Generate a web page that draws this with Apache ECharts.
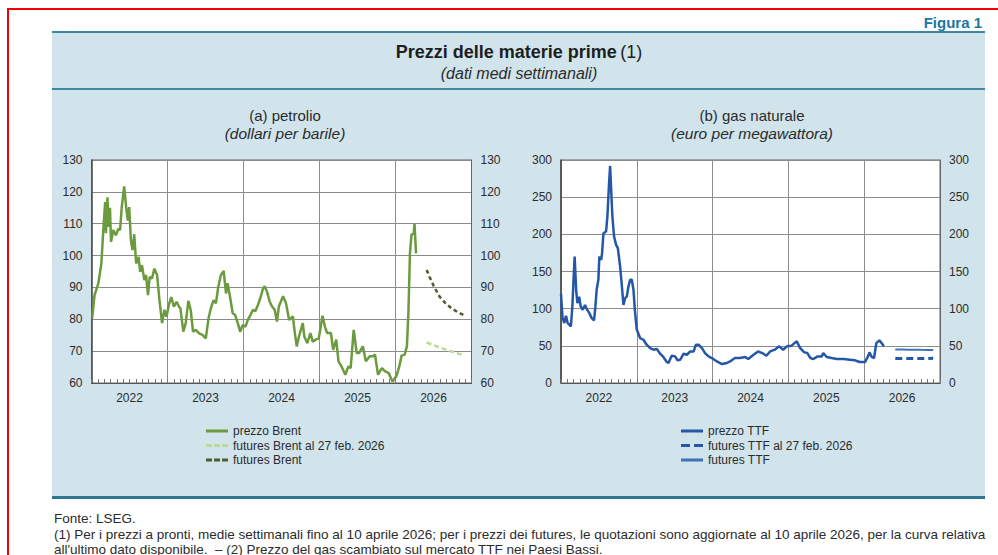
<!DOCTYPE html>
<html>
<head>
<meta charset="utf-8">
<script src="https://cdn.jsdelivr.net/npm/echarts@6/dist/echarts.min.js"></script>
<style>
  html, body { margin: 0; padding: 0; background: #fff; }
  #chart { width: 998px; height: 555px; }
</style>
</head>
<body>
<div id="chart"></div>
<script>
// dati (anni decimali, valori)
var yearLabels = ['2022', '2023', '2024', '2025', '2026'];

var brentPrice = [
  [2022.01, 80.5], [2022.04, 87.6], [2022.09, 91.3], [2022.13, 97.5], [2022.155, 108], [2022.18, 116.8],
  [2022.19, 107], [2022.21, 118.3], [2022.226, 109], [2022.243, 115], [2022.257, 104.3], [2022.287, 108],
  [2022.32, 106.4], [2022.354, 108.4], [2022.376, 108], [2022.398, 115.2], [2022.43, 121.7], [2022.456, 115.2],
  [2022.478, 111], [2022.496, 115.2], [2022.518, 104.8], [2022.54, 101.7], [2022.562, 106.7], [2022.588, 97.5],
  [2022.62, 99.6], [2022.64, 94.9], [2022.664, 97], [2022.695, 92.3], [2022.717, 93.9], [2022.743, 87.6],
  [2022.765, 93.3], [2022.796, 92.8], [2022.827, 95.9], [2022.863, 93.9], [2022.894, 86], [2022.929, 78.8],
  [2022.96, 83], [2022.987, 80.8], [2023.018, 84.5], [2023.049, 87], [2023.084, 84], [2023.12, 85.5],
  [2023.15, 84], [2023.17, 83.4], [2023.208, 76.1], [2023.24, 78.8], [2023.274, 85.8], [2023.305, 83],
  [2023.336, 76.1], [2023.372, 76.7], [2023.416, 75.6], [2023.46, 75.1], [2023.504, 74], [2023.54, 80.3],
  [2023.57, 83.4], [2023.606, 86], [2023.637, 85], [2023.668, 90.2], [2023.703, 93.9], [2023.739, 95.2],
  [2023.77, 88.1], [2023.79, 91.3], [2023.823, 87], [2023.858, 81.9], [2023.889, 81.4], [2023.925, 78.8],
  [2023.956, 76.1], [2023.99, 78.2], [2024.026, 77.7], [2024.057, 79.8], [2024.093, 81.4], [2024.124, 83],
  [2024.155, 82.5], [2024.19, 84.5], [2024.226, 87], [2024.257, 89.7], [2024.279, 90.4], [2024.31, 88.6],
  [2024.345, 85.5], [2024.376, 84], [2024.41, 83], [2024.44, 79.3], [2024.465, 84], [2024.52, 87.2],
  [2024.56, 85], [2024.6, 79.8], [2024.65, 80.9], [2024.67, 76.7], [2024.70, 71.5], [2024.73, 74.6],
  [2024.78, 78.8], [2024.8, 74.6], [2024.84, 72.5], [2024.88, 75.7], [2024.91, 73], [2024.95, 73.6],
  [2024.99, 74], [2025.04, 81.1], [2025.07, 77.8], [2025.1, 75.7], [2025.15, 75.7], [2025.18, 70.4],
  [2025.22, 73.6], [2025.25, 66.8], [2025.29, 65.2], [2025.34, 62.6], [2025.38, 65.2], [2025.41, 64.7],
  [2025.45, 76.7], [2025.49, 69.4], [2025.52, 69.4], [2025.57, 71.5], [2025.61, 66.8], [2025.66, 68.4],
  [2025.71, 68.4], [2025.73, 69], [2025.77, 62.6], [2025.82, 64.7], [2025.86, 63.7], [2025.91, 63.1],
  [2025.96, 60.5], [2026.01, 62.1], [2026.05, 65.2], [2026.08, 68.6], [2026.12, 68.9], [2026.15, 71.5],
  [2026.17, 82], [2026.19, 100.7], [2026.21, 106.5], [2026.24, 107], [2026.25, 110.1], [2026.27, 100.7]
];
var brentFuturesFeb = [
  [2026.41, 72.7], [2026.5, 71.9], [2026.58, 71.2], [2026.67, 70.4], [2026.75, 69.8], [2026.83, 69.2], [2026.91, 68.7]
];
var brentFutures = [
  [2026.41, 95.5], [2026.45, 93.2], [2026.5, 90.6], [2026.58, 87.1], [2026.66, 85], [2026.74, 83.4], [2026.82, 82.2], [2026.91, 81.2]
];

var ttfPrice = [
  [2022.0, 120], [2022.02, 88], [2022.044, 80.6], [2022.066, 90.5], [2022.088, 80.6], [2022.11, 78.4],
  [2022.13, 76], [2022.15, 103], [2022.167, 143], [2022.18, 170], [2022.2, 125], [2022.216, 107.5],
  [2022.24, 116], [2022.26, 103], [2022.286, 98.5], [2022.317, 105], [2022.34, 99.4], [2022.374, 94],
  [2022.405, 87.3], [2022.436, 84.2], [2022.454, 103], [2022.47, 125.4], [2022.493, 138.8], [2022.506, 170],
  [2022.53, 165.7], [2022.542, 174.7], [2022.56, 201.5], [2022.595, 203.8], [2022.612, 224], [2022.634, 268.7],
  [2022.648, 292], [2022.66, 264], [2022.678, 224], [2022.7, 197], [2022.727, 185.8], [2022.75, 181.4],
  [2022.78, 156.7], [2022.8, 134], [2022.824, 105], [2022.846, 114], [2022.868, 116.4], [2022.89, 130],
  [2022.912, 138.8], [2022.934, 138.8], [2022.956, 125.4], [2022.974, 98.5], [2023.0, 71.6], [2023.044, 60.5],
  [2023.088, 58.2], [2023.13, 51.5], [2023.176, 47], [2023.22, 44.8], [2023.264, 45.7], [2023.308, 39.4],
  [2023.35, 35], [2023.396, 28.2], [2023.418, 26.9], [2023.46, 36.7], [2023.506, 35.8], [2023.537, 30.5],
  [2023.573, 31.3], [2023.617, 39.4], [2023.66, 38], [2023.705, 42.5], [2023.75, 42.5], [2023.78, 51.5],
  [2023.815, 51.5], [2023.86, 47], [2023.9, 40.3], [2023.947, 35.8], [2023.99, 33.6], [2024.057, 29],
  [2024.123, 25.5], [2024.19, 26.9], [2024.23, 29], [2024.295, 33.6], [2024.36, 33.6], [2024.43, 35],
  [2024.47, 32.2], [2024.54, 38], [2024.6, 42.5], [2024.67, 39.4], [2024.71, 36.7], [2024.76, 42.5],
  [2024.82, 44.8], [2024.88, 49.3], [2024.93, 44.8], [2024.98, 49.3], [2025.04, 50], [2025.09, 54.6],
  [2025.11, 56], [2025.155, 47], [2025.21, 41.2], [2025.25, 40.3], [2025.29, 33.6], [2025.33, 32.2],
  [2025.385, 35.8], [2025.44, 35.8], [2025.46, 40.3], [2025.505, 35], [2025.57, 33.6], [2025.64, 32.2],
  [2025.73, 32.2], [2025.81, 31.3], [2025.88, 30.5], [2025.94, 28.2], [2026.01, 28.2], [2026.05, 35.8],
  [2026.07, 41.2], [2026.1, 35], [2026.13, 33.6], [2026.16, 53.7], [2026.2, 57.3], [2026.23, 53.7],
  [2026.26, 49.3]
];
var ttfFuturesFeb = [
  [2026.41, 33], [2026.5, 33], [2026.58, 32.9], [2026.67, 32.9], [2026.75, 33], [2026.83, 33.1], [2026.91, 33.2]
];
var ttfFutures = [
  [2026.41, 45.2], [2026.5, 45], [2026.58, 44.8], [2026.67, 44.8], [2026.75, 44.6], [2026.83, 44.5], [2026.91, 44.5]
];

var FONT = '"Liberation Sans", Arial, Helvetica, sans-serif';
var txt = '#2b2b2b';

// icone della legenda (linea piena / tratteggiata)
var ICON_SOLID = 'path://M0,0H22V3H0Z';
var ICON_DASH3 = 'path://M0,0H6V3H0Z M8,0H14V3H8Z M16,0H22V3H16Z';
var ICON_DASH2 = 'path://M0,0H9V3H0Z M13,0H22V3H13Z';

function xValueAxis(gi) {
  return {
    type: 'value', gridIndex: gi, min: 2022, max: 2027, interval: 1,
    axisLabel: { show: false },
    axisLine: { show: true, lineStyle: { color: '#555', width: 1 } },
    axisTick: { show: true, inside: true, length: 4, lineStyle: { color: '#777' } },
    minorTick: { show: true, splitNumber: 12, length: 4, lineStyle: { color: '#777' } },
    splitLine: { show: true, lineStyle: { color: '#8c8c8c', width: 1 } }
  };
}
function xLabelAxis(gi) {
  return {
    type: 'category', gridIndex: gi, data: yearLabels, boundaryGap: true, position: 'bottom',
    axisLine: { show: false }, axisTick: { show: false }, splitLine: { show: false },
    axisLabel: { color: txt, fontSize: 12, fontFamily: FONT, margin: 9 }
  };
}
function yAxis(gi, pos, min, max, step) {
  return {
    type: 'value', gridIndex: gi, position: pos, min: min, max: max, interval: step,
    axisLine: { show: true, lineStyle: { color: pos === 'left' ? '#444' : '#666', width: pos === 'left' ? 1.5 : 1 } },
    axisTick: { show: false },
    axisLabel: { color: txt, fontSize: 12, fontFamily: FONT, margin: 9 },
    splitLine: { show: pos === 'left', lineStyle: { color: '#8c8c8c', width: 1 } }
  };
}
function line(name, data, xi, yi, color, width, dash) {
  return {
    name: name, type: 'line', xAxisIndex: xi, yAxisIndex: yi, data: data,
    symbol: 'none', animation: false,
    lineStyle: { color: color, width: width, type: dash || 'solid' },
    itemStyle: { color: color }
  };
}
function legendBox(x, items) {
  return {
    orient: 'vertical', left: x, top: 420, itemWidth: 22, itemHeight: 3, itemGap: 2.5,
    selectedMode: false, textStyle: { color: txt, fontSize: 12, fontFamily: FONT },
    itemStyle: { borderWidth: 0 }, lineStyle: { width: 0 },
    data: items
  };
}

var chart = echarts.init(document.getElementById('chart'), null, { renderer: 'svg' });

chart.setOption({
  backgroundColor: '#fff',
  animation: false,
  textStyle: { fontFamily: FONT },
  graphic: [
    { type: 'rect', z: -10, shape: { x: 8, y: 9, width: 1010, height: 570 }, style: { fill: 'none', stroke: '#f00000', lineWidth: 2 } },
    { type: 'rect', z: -10, shape: { x: 52, y: 32, width: 933, height: 466 }, style: { fill: '#d1e4ec' } },
    { type: 'rect', z: -9, shape: { x: 52, y: 31, width: 933, height: 2 }, style: { fill: '#3c87a6' } },
    { type: 'rect', z: -9, shape: { x: 52, y: 88, width: 933, height: 2 }, style: { fill: '#3c87a6' } },
    { type: 'rect', z: -9, shape: { x: 52, y: 496, width: 933, height: 3 }, style: { fill: '#2f7491' } },
    { type: 'text', style: { text: 'Figura 1', x: 982, y: 22, align: 'right', verticalAlign: 'middle', font: 'bold 15px ' + FONT, fill: '#1b77a0' } },
    { type: 'text', style: {
        text: '{b|Prezzi delle materie prime} {n|(1)}', x: 519, y: 52, align: 'center', verticalAlign: 'middle',
        rich: { b: { fontWeight: 'bold', fontSize: 18, fontFamily: FONT, fill: '#1e1e1e' }, n: { fontSize: 18, fontFamily: FONT, fill: '#1e1e1e' } } } },
    { type: 'text', style: { text: '(dati medi settimanali)', x: 519, y: 73, align: 'center', verticalAlign: 'middle', font: 'italic 16px ' + FONT, fill: txt } },
    { type: 'text', style: { text: '(a) petrolio', x: 285, y: 115, align: 'center', verticalAlign: 'middle', font: '15px ' + FONT, fill: txt } },
    { type: 'text', style: { text: '(dollari per barile)', x: 285, y: 133, align: 'center', verticalAlign: 'middle', font: 'italic 15.5px ' + FONT, fill: txt } },
    { type: 'text', style: { text: '(b) gas naturale', x: 752, y: 115, align: 'center', verticalAlign: 'middle', font: '15px ' + FONT, fill: txt } },
    { type: 'text', style: { text: '(euro per megawattora)', x: 752, y: 133, align: 'center', verticalAlign: 'middle', font: 'italic 15.5px ' + FONT, fill: txt } },
    { type: 'text', style: { text: 'Fonte: LSEG.', x: 54, y: 518, align: 'left', verticalAlign: 'middle', font: '13.5px ' + FONT, fill: txt } },
    { type: 'text', style: { text: '(1) Per i prezzi a pronti, medie settimanali fino al 10 aprile 2026; per i prezzi dei futures, le quotazioni sono aggiornate al 10 aprile 2026, per la curva relativa', x: 54, y: 534, align: 'left', verticalAlign: 'middle', font: '13.5px ' + FONT, fill: txt } },
    { type: 'text', style: { text: 'all\'ultimo dato disponibile.  \u2013 (2) Prezzo del gas scambiato sul mercato TTF nei Paesi Bassi.', x: 54, y: 549, align: 'left', verticalAlign: 'middle', font: '13.5px ' + FONT, fill: txt } }
  ],
  grid: [
    { left: 91.5, top: 160, width: 380, height: 223, show: true, backgroundColor: '#fff', borderColor: '#666', borderWidth: 1 },
    { left: 561, top: 160, width: 379, height: 223, show: true, backgroundColor: '#fff', borderColor: '#666', borderWidth: 1 }
  ],
  xAxis: [xValueAxis(0), xLabelAxis(0), xValueAxis(1), xLabelAxis(1)],
  yAxis: [
    yAxis(0, 'left', 60, 130, 10), yAxis(0, 'right', 60, 130, 10),
    yAxis(1, 'left', 0, 300, 50), yAxis(1, 'right', 0, 300, 50)
  ],
  legend: [
    legendBox(201, [
      { name: 'prezzo Brent', icon: ICON_SOLID },
      { name: 'futures Brent al 27 feb. 2026', icon: ICON_DASH3 },
      { name: 'futures Brent', icon: ICON_DASH3 }
    ]),
    legendBox(676, [
      { name: 'prezzo TTF', icon: ICON_SOLID },
      { name: 'futures TTF al 27 feb. 2026', icon: ICON_DASH2 },
      { name: 'futures TTF', icon: ICON_SOLID }
    ])
  ],
  series: [
    line('prezzo Brent', brentPrice, 0, 0, '#6b9b3e', 2.5),
    line('futures Brent al 27 feb. 2026', brentFuturesFeb, 0, 0, '#b9dc92', 2.5, [5, 3]),
    line('futures Brent', brentFutures, 0, 0, '#4b5f2c', 2.5, [4, 3]),
    line('prezzo TTF', ttfPrice, 2, 2, '#2457a8', 2.5),
    line('futures TTF al 27 feb. 2026', ttfFuturesFeb, 2, 2, '#2457a8', 3, [7, 4]),
    line('futures TTF', ttfFutures, 2, 2, '#3f72bb', 2)
  ]
});
</script>
</body>
</html>
